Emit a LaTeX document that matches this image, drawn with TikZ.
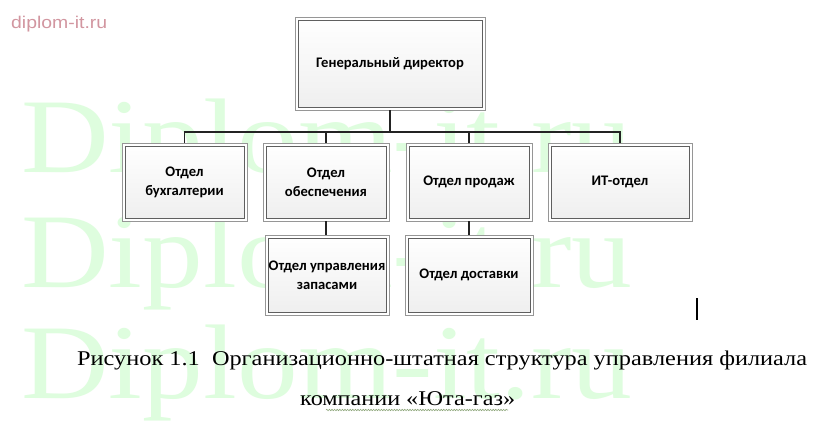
\documentclass[tikz,border=0pt]{standalone}
\usepackage{fontspec}
\usepackage{graphicx}
\setmainfont{Liberation Serif}
\newfontfamily\boxfont{Carlito}
\newfontfamily\markfont{Liberation Sans}
\usetikzlibrary{decorations.pathmorphing}

\definecolor{wm}{RGB}{222,253,222}
\definecolor{wmred}{RGB}{210,150,160}
\definecolor{frameout}{RGB}{150,150,150}
\definecolor{framein}{RGB}{95,95,95}
\definecolor{linec}{RGB}{35,35,35}
\definecolor{spellc}{RGB}{140,165,120}

\tikzset{
  orgbox/.style={draw=frameout, line width=0.9pt, fill=white, inner sep=2pt,
    align=center, text=black,
    font=\boxfont\bfseries\fontsize{14.6}{19}\selectfont,
    path picture={
      \shade[top color=white, bottom color=gray!13]
        ([shift={(3pt,-3pt)}]path picture bounding box.north west) rectangle
        ([shift={(-3pt,3pt)}]path picture bounding box.south east);
      \draw[framein, line width=0.9pt]
        ([shift={(3pt,-3pt)}]path picture bounding box.north west) rectangle
        ([shift={(-3pt,3pt)}]path picture bounding box.south east);
    }},
  conn/.style={draw=linec, line width=1.5pt},
  wmtext/.style={anchor=base west, inner sep=0pt, text=wm},
  captext/.style={anchor=base west, inner sep=0pt, text=black,
    font=\fontsize{21}{21}\selectfont},
}

\begin{document}
\begin{tikzpicture}[x=1pt,y=-1pt]
\fill[white] (0,0) rectangle (827,434);
\useasboundingbox (0,0) rectangle (827,434);

% watermark
\node[wmtext] (w1) at (21,172) {\resizebox{611pt}{\height}{\fontsize{106}{106}\selectfont Diplom-it.ru}};
\node[wmtext] (w2) at (21,287) {\resizebox{611pt}{\height}{\fontsize{106}{106}\selectfont Diplom-it.ru}};
\node[wmtext] (w3) at (21,398) {\resizebox{611pt}{\height}{\fontsize{106}{106}\selectfont Diplom-it.ru}};
\node[anchor=base west, inner sep=0pt, text=wmred] (site) at (11,28)
  {\resizebox{96pt}{\height}{\markfont\fontsize{17}{17}\selectfont diplom-it.ru}};

% boxes
\node[orgbox, minimum width=190pt, minimum height=93pt] (gd) at (390,63.5) {Генеральный директор};
\node[orgbox, minimum width=125pt, minimum height=78pt] (b1) at (184.5,182) {Отдел\\бухгалтерии};
\node[orgbox, minimum width=126pt, minimum height=78pt] (b2) at (326,182) {Отдел\\обеспечения};
\node[orgbox, minimum width=126pt, minimum height=78pt] (b3) at (469,182) {Отдел продаж};
\node[orgbox, minimum width=144pt, minimum height=78pt] (b4) at (620,182) {ИТ-отдел};
\node[orgbox, minimum width=124pt, minimum height=80pt] (c1) at (327,275) {Отдел управления\\запасами};
\node[orgbox, minimum width=128pt, minimum height=80pt] (c2) at (469,275) {Отдел доставки};

% connectors
\coordinate (bus) at (0,132);
\draw[conn] (gd.south) -- (gd.south |- bus);
\draw[conn] (b1.north) -- (b1.north |- bus) -- (b4.north |- bus) -- (b4.north);
\draw[conn, line width=1.2pt] (b2.north) -- (b2.north |- bus);
\draw[conn, line width=1.2pt] (b3.north) -- (b3.north |- bus);
\draw[conn, line width=1.2pt] (b2.south) -- (c1.north -| b2.south);
\draw[conn, line width=1.2pt] (b3.south) -- (c2.north -| b3.south);

% caption
\node[captext] (cap1) at (77,365) {\resizebox{730pt}{\height}{\fontsize{21}{21}\selectfont Рисунок 1.1\ \ Организационно-штатная структура управления филиала}};
\node[captext] (cap2) at (300,405) {\resizebox{215pt}{\height}{\fontsize{21}{21}\selectfont компании «Юта-газ»}};
\coordinate (u1) at (326,410);
\coordinate (u2) at (508,410);
\draw[spellc, line width=0.6pt, decorate, decoration={snake, amplitude=0.7pt, segment length=2.6pt}] (u1) -- (u2);

% text cursor
\coordinate (k1) at (697,298);
\coordinate (k2) at (697,320);
\draw[black, line width=1.3pt] (k1) -- (k2);
\end{tikzpicture}
\end{document}
